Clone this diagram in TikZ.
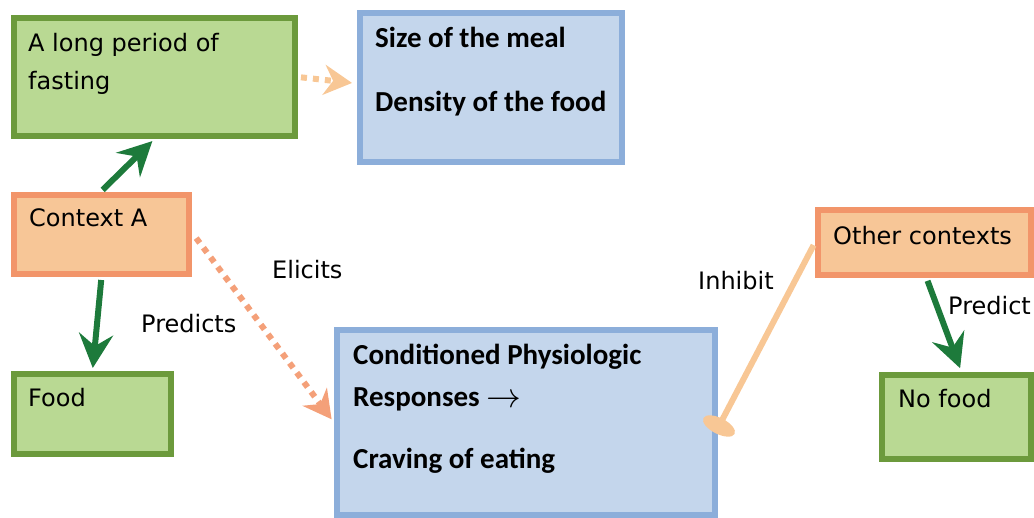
\RequirePackage{fix-cm}
\documentclass[tikz,border=0pt]{standalone}
\usepackage{fontspec}
\usepackage{graphicx}
\setmainfont{DejaVu Sans}
\newfontfamily\calfont{Carlito}
\usetikzlibrary{arrows.meta,shapes.geometric,calc}

\definecolor{gfill}{HTML}{B9D993}
\definecolor{gline}{HTML}{6C9A3C}
\definecolor{ofill}{HTML}{F7C697}
\definecolor{oline}{HTML}{F2956A}
\definecolor{bfill}{HTML}{C4D6EC}
\definecolor{bline}{HTML}{8CAEDA}
\definecolor{dgreen}{HTML}{1D7A3B}
\definecolor{salmon}{HTML}{F4A079}
\definecolor{peach}{HTML}{F8C795}

\tikzset{
  box/.style={rectangle, inner sep=0pt, line width=6pt},
  gbox/.style={box, draw=gline, fill=gfill},
  obox/.style={box, draw=oline, fill=ofill},
  bbox/.style={box, draw=bline, fill=bfill},
  plain/.style={anchor=base west, inner sep=0pt, font=\fontsize{24pt}{28pt}\selectfont},
  heavy/.style={anchor=base west, inner sep=0pt, font=\calfont\bfseries\fontsize{29pt}{35pt}\selectfont},
  garrow/.style={draw=dgreen, line width=6pt,
    -{Stealth[length=34pt,width=34pt,inset=12pt]}},
  dotarrow/.style={line width=6pt, dash pattern=on 6pt off 6pt,
    -{Stealth[length=28pt,width=30pt,inset=9pt]}},
}

\begin{document}
\begin{tikzpicture}[x=1pt, y=-1pt]
\useasboundingbox (0,0) rectangle (1034,518);
\clip (0,0) rectangle (1034,518);

% boxes
\node[gbox, minimum width=281pt, minimum height=118pt] (fast) at (154.5,77) {};
\node[bbox, minimum width=262pt, minimum height=149pt] (size) at (491,87.5) {};
\node[obox, minimum width=175pt, minimum height=79pt]  (ctx)  at (101.5,234.5) {};
\node[gbox, minimum width=157pt, minimum height=80pt]  (food) at (92.5,414) {};
\node[bbox, minimum width=378pt, minimum height=185pt] (cond) at (526,422.5) {};
\node[obox, minimum width=213pt, minimum height=65pt]  (oc)   at (924.5,242.5) {};
\node[gbox, minimum width=149pt, minimum height=84pt]  (nf)   at (956.5,417) {};

% box texts
\node[plain] (fast1) at (28,52) {A long period of};
\node[plain] (fast2) at (28,90) {fasting};
\node[heavy] (size1) at (375,48) {Size of the meal};
\node[heavy] (size2) at (375,112) {Density of the food};
\node[plain] (ctxt)  at (29,227) {Context A};
\node[plain] (foodt) at (28,407) {Food};
\node[heavy] (cond1) at (353,365) {Conditioned Physiologic};
\node[heavy] (cond2) at (353,407) {Responses \raisebox{-1pt}{\scalebox{1.2}{$\rightarrow$}}};
\node[heavy] (cond3) at (353,468) {Craving of eating};
\node[plain] (oct)   at (833,245) {Other contexts};
\node[plain] (nft)   at (898,408) {No food};

% connector labels
\node[plain] (lelic) at (272,279) {Elicits};
\node[plain] (lpred) at (141,333) {Predicts};
\node[plain] (linh)  at (698,290) {Inhibit};
\node[plain] (lpr2)  at (948,315) {Predict};

% connectors
\draw[garrow, shorten <=3pt, shorten >=3pt] ($(ctx.north)+(-1,0)$) -- (fast.south);
\draw[garrow, shorten <=3pt, shorten >=3pt] (ctx.south) -- (food.north);
\draw[garrow, shorten <=3pt, shorten >=4pt]
  ($(oc.south)+(2,0)$) -- ($(nf.north)+(5,0)$);
\draw[dotarrow, draw=salmon, shorten <=2pt, shorten >=4pt]
  ($(ctx.east)+(3,2)$) -- (cond.west);
\draw[dotarrow, draw=peach, shorten <=3pt, shorten >=5pt]
  (fast.east) -- ($(size.west)+(0,-4)$);

% inhibition bar
\node[ellipse, fill=peach, inner sep=0pt, minimum width=35pt,
      minimum height=16pt, rotate=-27] (tbar) at (719,426) {};
\draw[draw=peach, line width=6pt, shorten <=3pt] (oc.west) -- (tbar.center);
\end{tikzpicture}
\end{document}
